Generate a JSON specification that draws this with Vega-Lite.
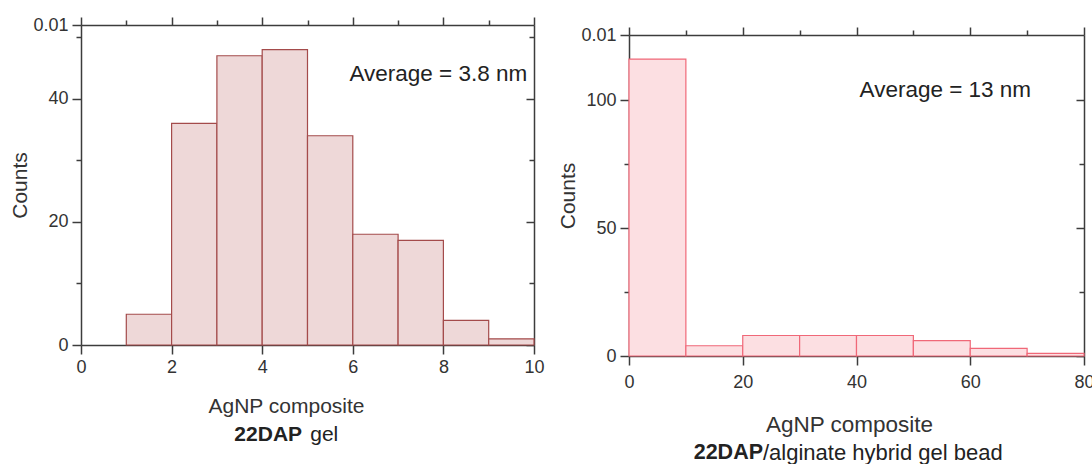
{
  "$schema": "https://vega.github.io/schema/vega-lite/v6.json",
  "background": "white",
  "padding": {"left": 9, "top": 16, "right": 0, "bottom": 0},
  "autosize": {"type": "pad"},
  "spacing": 12,
  "config": {
    "view": {"stroke": null},
    "font": "Liberation Sans",
    "axis": {
      "grid": false,
      "labelFlush": false,
      "labelOverlap": false,
      "domainColor": "#3c3c3c",
      "domainWidth": 1.5,
      "tickColor": "#3c3c3c",
      "tickWidth": 1.5,
      "labelFont": "Liberation Sans",
      "labelFontSize": 18,
      "labelColor": "#333333",
      "titleFont": "Liberation Sans",
      "titleFontSize": 21,
      "titleFontWeight": "normal",
      "titleColor": "#333333"
    },
    "text": {"font": "Liberation Sans", "color": "#222222"}
  },
  "hconcat": [
    {
      "width": 453,
      "height": 320,
      "data": {"values": [
        {"start": 1, "end": 2, "count": 5},
        {"start": 2, "end": 3, "count": 36},
        {"start": 3, "end": 4, "count": 47},
        {"start": 4, "end": 5, "count": 48},
        {"start": 5, "end": 6, "count": 34},
        {"start": 6, "end": 7, "count": 18},
        {"start": 7, "end": 8, "count": 17},
        {"start": 8, "end": 9, "count": 4},
        {"start": 9, "end": 10, "count": 1}
      ]},
      "resolve": {"axis": {"x": "independent", "y": "independent"}},
      "layer": [
        {
          "mark": {"type": "bar", "fill": "#eed8d8", "stroke": "#a44b4b", "strokeWidth": 1.2},
          "encoding": {
            "x": {"field": "start", "type": "quantitative",
              "scale": {"domain": [0, 10], "nice": false, "zero": false, "padding": 0},
              "axis": {"orient": "bottom", "values": [0, 2, 4, 6, 8, 10], "tickSize": 9, "labelPadding": 4,
                "title": "AgNP composite", "titlePadding": 19, "titleX": 205}},
            "x2": {"field": "end"},
            "y": {"field": "count", "type": "quantitative",
              "scale": {"domain": [0, 52], "nice": false, "padding": 0},
              "axis": {"orient": "left", "values": [0, 20, 40, 52], "labelExpr": "datum.value > 50 ? '0.01' : datum.label",
                "tickSize": 9, "labelPadding": 4, "title": "Counts", "titlePadding": 2}},
            "y2": {"datum": 0}
          }
        },
        {
          "data": {"values": [{"t": "Average = 3.8 nm"}]},
          "mark": {"type": "text", "align": "right", "baseline": "middle", "fontSize": 22.5},
          "encoding": {
            "text": {"field": "t"},
            "x": {"datum": 9.85, "type": "quantitative",
              "axis": {"orient": "top", "values": [0, 2, 4, 6, 8, 10], "labels": false, "tickSize": 8, "title": null}},
            "y": {"datum": 44, "type": "quantitative",
              "axis": {"orient": "right", "values": [0, 20, 40], "labels": false, "tickSize": -8, "title": null}}
          }
        },
        {
          "data": {"values": [{"t": "22DAP"}]},
          "mark": {"type": "text", "align": "right", "baseline": "middle", "fontSize": 21, "fontWeight": "bold"},
          "encoding": {
            "text": {"field": "t"},
            "x": {"datum": 4.88, "type": "quantitative",
              "axis": {"orient": "top", "values": [1, 3, 5, 7, 9], "labels": false, "tickSize": 5, "title": null, "domain": false}},
            "y": {"datum": -14.7, "type": "quantitative",
              "axis": {"orient": "right", "values": [10, 30, 50], "labels": false, "tickSize": -5, "title": null, "domain": false}}
          }
        },
        {
          "data": {"values": [{"t": "gel"}]},
          "mark": {"type": "text", "align": "left", "baseline": "middle", "fontSize": 21},
          "encoding": {
            "text": {"field": "t"},
            "x": {"datum": 5.06, "type": "quantitative", "axis": null},
            "y": {"datum": -14.7, "type": "quantitative",
              "axis": {"orient": "left", "values": [10, 30, 50], "labels": false, "tickSize": 5, "title": null, "domain": false}}
          }
        }
      ]
    },
    {
      "width": 455,
      "height": 331,
      "data": {"values": [
        {"start": 0, "end": 10, "count": 116},
        {"start": 10, "end": 20, "count": 4},
        {"start": 20, "end": 30, "count": 8},
        {"start": 30, "end": 40, "count": 8},
        {"start": 40, "end": 50, "count": 8},
        {"start": 50, "end": 60, "count": 6},
        {"start": 60, "end": 70, "count": 3},
        {"start": 70, "end": 80, "count": 1}
      ]},
      "resolve": {"axis": {"x": "independent", "y": "independent"}},
      "layer": [
        {
          "mark": {"type": "bar", "fill": "#fcdfe2", "stroke": "#f06878", "strokeWidth": 1.2},
          "encoding": {
            "x": {"field": "start", "type": "quantitative",
              "scale": {"domain": [0, 80], "nice": false, "zero": false, "padding": 0},
              "axis": {"orient": "bottom", "values": [0, 20, 40, 60, 80], "tickSize": 9, "labelPadding": 8,
                "title": "AgNP composite", "titlePadding": 22, "titleX": 220, "titleFontSize": 22.5}},
            "x2": {"field": "end"},
            "y": {"field": "count", "type": "quantitative",
              "scale": {"domain": [0, 125.4], "nice": false, "padding": 0, "range": [331, 10]},
              "axis": {"orient": "left", "values": [0, 50, 100, 125.4], "labelExpr": "datum.value > 120 ? '0.01' : datum.label",
                "tickSize": 9, "labelPadding": 4, "title": "Counts", "titlePadding": 2}},
            "y2": {"datum": 0}
          }
        },
        {
          "data": {"values": [{"t": "Average = 13 nm"}]},
          "mark": {"type": "text", "align": "right", "baseline": "middle", "fontSize": 22.5},
          "encoding": {
            "text": {"field": "t"},
            "x": {"datum": 70.7, "type": "quantitative",
              "axis": {"orient": "top", "values": [0, 20, 40, 60, 80], "labels": false, "tickSize": 8, "title": null, "offset": -10}},
            "y": {"datum": 103.9, "type": "quantitative",
              "axis": {"orient": "right", "values": [0, 50, 100], "labels": false, "tickSize": -8, "title": null}}
          }
        },
        {
          "data": {"values": [{"t": "22DAP"}]},
          "mark": {"type": "text", "align": "right", "baseline": "middle", "fontSize": 21.5, "fontWeight": "bold"},
          "encoding": {
            "text": {"field": "t"},
            "x": {"datum": 23.56, "type": "quantitative",
              "axis": {"orient": "top", "values": [10, 30, 50, 70], "labels": false, "tickSize": 5, "title": null, "domain": false, "offset": -10}},
            "y": {"datum": -37.8, "type": "quantitative",
              "axis": {"orient": "right", "values": [25, 75], "labels": false, "tickSize": -5, "title": null, "domain": false}}
          }
        },
        {
          "data": {"values": [{"t": "/alginate hybrid gel bead"}]},
          "mark": {"type": "text", "align": "left", "baseline": "middle", "fontSize": 22},
          "encoding": {
            "text": {"field": "t"},
            "x": {"datum": 23.56, "type": "quantitative", "axis": null},
            "y": {"datum": -37.8, "type": "quantitative",
              "axis": {"orient": "left", "values": [25, 75], "labels": false, "tickSize": 5, "title": null, "domain": false}}
          }
        }
      ]
    }
  ]
}
